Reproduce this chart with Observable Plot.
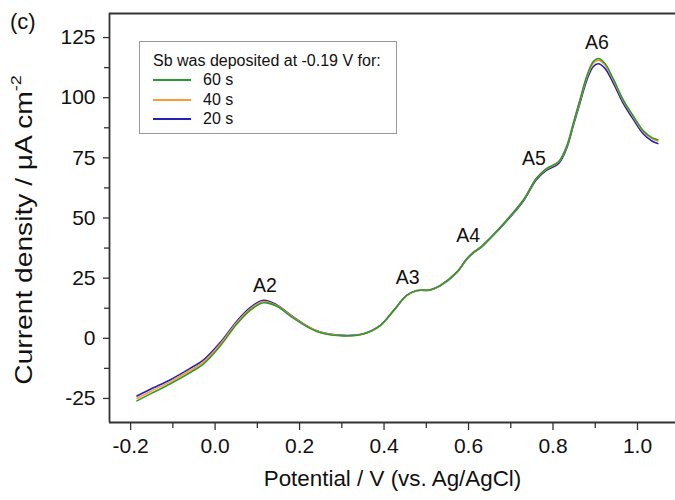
<!DOCTYPE html>
<html>
<head>
<meta charset="utf-8">
<script src="https://cdn.jsdelivr.net/npm/d3@7"></script>
<script src="https://cdn.jsdelivr.net/npm/@observablehq/plot@0.6"></script>
<style>
  body { margin: 0; background: #fff; font-family: "Liberation Sans", Arial, sans-serif; }
  #wrap { position: relative; width: 675px; height: 500px; }
  #legend { position: absolute; left: 139px; top: 41px; width: 258px; height: 93px; border: 1px solid #999; box-sizing: border-box; font-size: 16px; color: #111; }
  #legend .title { position: absolute; left: 13px; top: 10px; white-space: nowrap; }
  #legend .row { position: absolute; left: 13px; height: 19px; width: 200px; white-space: nowrap; }
  #legend .sw { position: absolute; left: 0; top: 9px; width: 38px; height: 2px; }
  #legend .lab { position: absolute; left: 50px; top: 0; line-height: 19px; }
</style>
</head>
<body>
<div id="wrap"></div>
<script>
// Potential (V vs. Ag/AgCl)
const potential = [-0.185, -0.15, -0.107, -0.06, -0.028, 0.012, 0.051, 0.083, 0.114, 0.146, 0.185, 0.22, 0.249, 0.304, 0.351, 0.391, 0.422, 0.454, 0.477, 0.509, 0.533, 0.572, 0.596, 0.611, 0.630, 0.651, 0.690, 0.730, 0.761, 0.785, 0.813, 0.832, 0.848, 0.864, 0.880, 0.895, 0.907, 0.923, 0.943, 0.966, 0.990, 1.014, 1.034, 1.048];
// Current density (µA cm^-2)
const s60 = [-26.0, -22.8, -19.0, -14.3, -10.7, -3.2, 5.8, 11.6, 14.8, 13.3, 8.4, 4.6, 2.3, 1.0, 1.8, 5.3, 11.4, 17.9, 19.9, 20.2, 22.0, 27.5, 33.1, 35.7, 38.1, 41.7, 49.1, 57.6, 66.6, 70.6, 73.4, 79.7, 89.4, 99.3, 109.0, 114.9, 116.3, 114.2, 107.7, 99.2, 92.4, 86.2, 83.4, 82.5];
const s40 = [-25.0, -21.8, -18.1, -13.4, -9.9, -2.5, 6.4, 12.1, 15.3, 13.6, 8.7, 4.8, 2.5, 1.1, 1.8, 5.3, 11.4, 17.8, 19.8, 20.1, 21.9, 27.4, 33.0, 35.6, 38.0, 41.6, 49.0, 57.5, 66.5, 70.4, 73.2, 79.4, 89.0, 98.8, 108.4, 114.2, 115.6, 113.6, 107.2, 98.8, 92.0, 85.8, 83.0, 82.0];
const s20 = [-24.0, -20.9, -17.3, -12.6, -9.1, -1.8, 7.0, 12.7, 15.8, 13.9, 8.9, 4.9, 2.6, 1.2, 1.9, 5.4, 11.4, 17.8, 19.8, 20.0, 21.8, 27.3, 32.9, 35.4, 37.8, 41.4, 48.7, 57.1, 66.0, 69.9, 72.6, 78.8, 88.3, 97.9, 107.3, 112.9, 114.1, 112.2, 106.0, 97.8, 91.0, 84.9, 82.0, 81.0];

const seriesNames = ["60 s", "40 s", "20 s"];
const seriesColors = ["#2e9a2e", "#ff9933", "#2222bb"];

const peakLabels = ["A2", "A3", "A4", "A5", "A6"];
const peakX = [0.118, 0.456, 0.599, 0.755, 0.904];
const peakY = [22.0, 25.3, 42.8, 74.8, 122.8];

const xTicks = [-0.2, 0.0, 0.2, 0.4, 0.6, 0.8, 1.0];
const xMinor = [-0.1, 0.1, 0.3, 0.5, 0.7, 0.9];
const yTicks = [-25, 0, 25, 50, 75, 100, 125];
const yMinor = [-12.5, 12.5, 37.5, 62.5, 87.5, 112.5];

const legendTitle = "Sb was deposited at -0.19 V for:";
const xTitle = "Potential / V (vs. Ag/AgCl)";

const rows = [];
[s60, s40, s20].forEach((arr, i) => arr.forEach((v, j) => rows.push({series: seriesNames[i], x: potential[j], y: v})));
const drawOrder = ["20 s", "40 s", "60 s"];

const axisColor = "#333";
const chart = Plot.plot({
  width: 675, height: 500,
  marginLeft: 109, marginRight: 0, marginTop: 13, marginBottom: 78,
  style: {fontFamily: "'Liberation Sans', Arial, sans-serif", color: "#111", background: "#fff"},
  x: {domain: [-0.25, 1.09]},
  y: {domain: [-35, 135]},
  color: {domain: seriesNames, range: seriesColors},
  marks: [
    Plot.axisX({ticks: xTicks, tickFormat: d => d.toFixed(1), tickSize: 8, tickPadding: 8, fontSize: 21, label: null, stroke: axisColor, strokeWidth: 1.3}),
    Plot.axisX({ticks: xMinor, tickFormat: () => "", tickSize: 6, label: null, stroke: axisColor, strokeWidth: 1.3}),
    Plot.axisY({ticks: yTicks, tickFormat: d => String(d), tickSize: 6, tickPadding: 8, fontSize: 21, label: null, stroke: axisColor, strokeWidth: 1.3}),
    Plot.axisY({ticks: yMinor, tickFormat: () => "", tickSize: 5, label: null, stroke: axisColor, strokeWidth: 1.3}),
    Plot.ruleX([-0.25], {stroke: axisColor, strokeWidth: 1.8}),
    Plot.ruleY([-35, 135], {stroke: axisColor, strokeWidth: 1.8}),
    ...drawOrder.map(name => Plot.line(rows.filter(r => r.series === name), {x: "x", y: "y", stroke: "series", strokeWidth: 1.6, curve: "catmull-rom"})),
    Plot.text(peakLabels, {x: (d, i) => peakX[i], y: (d, i) => peakY[i], text: d => d, fontSize: 19.5, fill: "#111"}),
    Plot.text([xTitle], {frameAnchor: "bottom", dy: 63, text: d => d, fontSize: 22.4, fill: "#111"})
  ]
});

const wrap = document.getElementById("wrap");
wrap.appendChild(chart);

const svg = d3.select(chart);
const yt = svg.append("text")
  .attr("transform", "translate(32,230) rotate(-90) scale(1.2,1)")
  .attr("text-anchor", "middle")
  .attr("font-size", 23.5)
  .attr("fill", "#111")
  .attr("font-family", "'Liberation Sans', Arial, sans-serif");
yt.append("tspan").text("Current density / μA cm");
yt.append("tspan").attr("font-size", 15).attr("dy", -11).text("-2");

svg.append("text")
  .attr("x", 10).attr("y", 29)
  .attr("text-anchor", "start")
  .attr("font-size", 22)
  .attr("fill", "#111")
  .attr("font-family", "'Liberation Sans', Arial, sans-serif")
  .text("(c)");

const legend = document.createElement("div");
legend.id = "legend";
const t = document.createElement("div");
t.className = "title";
t.textContent = legendTitle;
legend.appendChild(t);
seriesNames.forEach((name, i) => {
  const row = document.createElement("div");
  row.className = "row";
  row.style.top = (28 + i * 19.5) + "px";
  const sw = document.createElement("div");
  sw.className = "sw";
  sw.style.background = seriesColors[i];
  const lab = document.createElement("div");
  lab.className = "lab";
  lab.textContent = name;
  row.appendChild(sw);
  row.appendChild(lab);
  legend.appendChild(row);
});
wrap.appendChild(legend);
</script>
</body>
</html>
